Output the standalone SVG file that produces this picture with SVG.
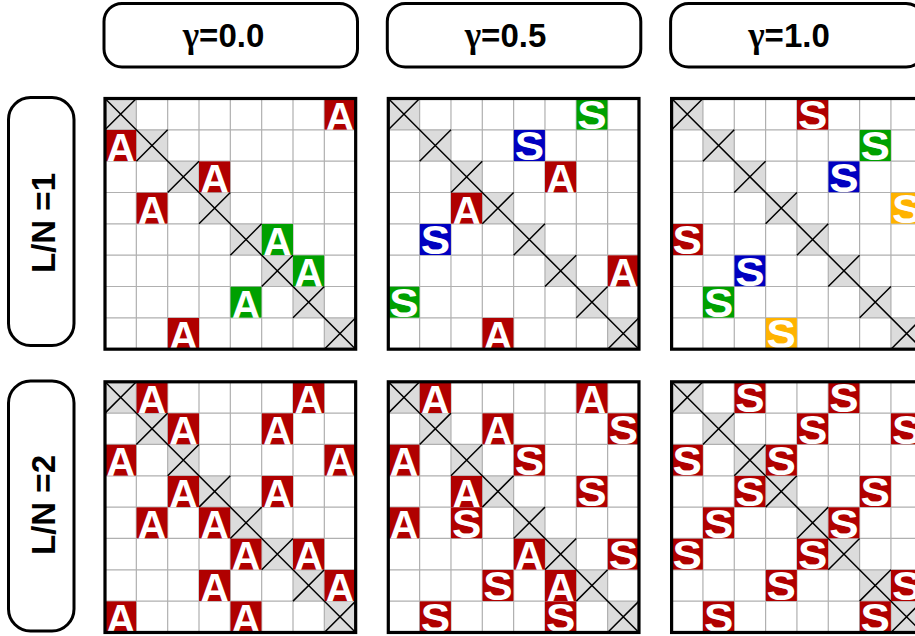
<svg xmlns="http://www.w3.org/2000/svg" xmlns:xlink="http://www.w3.org/1999/xlink" width="915" height="636" viewBox="0 0 915 636">
<style>
.hdr{fill:#fff;stroke:#000;stroke-width:3}
.ht{font-family:"Liberation Sans",Arial,sans-serif;font-weight:bold;font-size:33px;fill:#000}
.gam{font-family:"Liberation Serif","Times New Roman",serif;font-weight:bold;font-size:35px}
.gl{fill:none;stroke:#b0b0b0;stroke-width:1.2}
.dg{fill:#dcdcdc}
.xl{fill:none;stroke:#000;stroke-width:1.5}
.bd{fill:none;stroke:#000;stroke-width:3.2}
.lt{font-family:"Liberation Sans",Arial,sans-serif;font-weight:bold;font-size:40px;fill:#fff;text-anchor:middle}
.r{fill:#b00000}.g{fill:#00a000}.b{fill:#0000c0}.y{fill:#ffb300}
</style>
<defs>
<g id="base">
<rect x="0" y="0" width="250.67" height="250.67" fill="#fff"/>
<rect class="dg" x="0" y="0" width="31.33" height="31.33"/>
<rect class="dg" x="31.33" y="31.33" width="31.33" height="31.33"/>
<rect class="dg" x="62.67" y="62.67" width="31.33" height="31.33"/>
<rect class="dg" x="94" y="94" width="31.33" height="31.33"/>
<rect class="dg" x="125.33" y="125.33" width="31.33" height="31.33"/>
<rect class="dg" x="156.67" y="156.67" width="31.33" height="31.33"/>
<rect class="dg" x="188" y="188" width="31.33" height="31.33"/>
<rect class="dg" x="219.33" y="219.33" width="31.33" height="31.33"/>
<path class="gl" d="M31.33 0V250.67M62.67 0V250.67M94 0V250.67M125.33 0V250.67M156.67 0V250.67M188 0V250.67M219.33 0V250.67M0 31.33H250.67M0 62.67H250.67M0 94H250.67M0 125.33H250.67M0 156.67H250.67M0 188H250.67M0 219.33H250.67"/>
<path class="xl" d="M0 0L250.67 250.67M0 31.33L31.33 0M31.33 62.67L62.67 31.33M62.67 94L94 62.67M94 125.33L125.33 94M125.33 156.67L156.67 125.33M156.67 188L188 156.67M188 219.33L219.33 188M219.33 250.67L250.67 219.33"/>
</g>
<rect id="border" class="bd" x="0" y="0" width="250.67" height="250.67"/>
<symbol id="rA" viewBox="0 0 31.33 31.33" overflow="hidden"><rect class="r" width="31.33" height="31.33"/><text class="lt" x="15.67" y="32">A</text></symbol>
<symbol id="gA" viewBox="0 0 31.33 31.33" overflow="hidden"><rect class="g" width="31.33" height="31.33"/><text class="lt" x="15.67" y="32">A</text></symbol>
<symbol id="rS" viewBox="0 0 31.33 31.33" overflow="hidden"><rect class="r" width="31.33" height="31.33"/><text class="lt" transform="translate(15.67,30.5) scale(1.1,1)">S</text></symbol>
<symbol id="gS" viewBox="0 0 31.33 31.33" overflow="hidden"><rect class="g" width="31.33" height="31.33"/><text class="lt" transform="translate(15.67,30.5) scale(1.1,1)">S</text></symbol>
<symbol id="bS" viewBox="0 0 31.33 31.33" overflow="hidden"><rect class="b" width="31.33" height="31.33"/><text class="lt" transform="translate(15.67,30.5) scale(1.1,1)">S</text></symbol>
<symbol id="yS" viewBox="0 0 31.33 31.33" overflow="hidden"><rect class="y" width="31.33" height="31.33"/><text class="lt" transform="translate(15.67,30.5) scale(1.1,1)">S</text></symbol>
</defs>

<g id="col-g00"><rect class="hdr" x="104" y="3.5" width="253.5" height="63.5" rx="18"/><text class="ht" x="223.5" y="46.5" text-anchor="middle"><tspan class="gam">γ</tspan>=0.0</text></g>
<g id="col-g05"><rect class="hdr" x="387.3" y="3.5" width="253.5" height="63.5" rx="18"/><text class="ht" x="505.5" y="46.5" text-anchor="middle"><tspan class="gam">γ</tspan>=0.5</text></g>
<g id="col-g10"><rect class="hdr" x="670.6" y="3.5" width="253.5" height="63.5" rx="18"/><text class="ht" x="789" y="46.5" text-anchor="middle"><tspan class="gam">γ</tspan>=1.0</text></g>

<g id="row-ln1"><rect class="hdr" x="8.5" y="97.5" width="65.5" height="248" rx="22"/><text class="ht" transform="translate(55,223) rotate(-90)" text-anchor="middle">L/N =1</text></g>
<g id="row-ln2"><rect class="hdr" x="8.5" y="381" width="65.5" height="250" rx="22"/><text class="ht" transform="translate(55,505) rotate(-90)" text-anchor="middle">L/N =2</text></g>

<g id="panel-ln1-g00" transform="translate(105,98.5)">
<use xlink:href="#base"/>
<use xlink:href="#rA" x="219.33" y="0" width="31.33" height="31.33"/>
<use xlink:href="#rA" x="0" y="31.33" width="31.33" height="31.33"/>
<use xlink:href="#rA" x="94" y="62.67" width="31.33" height="31.33"/>
<use xlink:href="#rA" x="31.33" y="94" width="31.33" height="31.33"/>
<use xlink:href="#gA" x="156.67" y="125.33" width="31.33" height="31.33"/>
<use xlink:href="#gA" x="188" y="156.67" width="31.33" height="31.33"/>
<use xlink:href="#gA" x="125.33" y="188" width="31.33" height="31.33"/>
<use xlink:href="#rA" x="62.67" y="219.33" width="31.33" height="31.33"/>
<use xlink:href="#border"/>
</g>

<g id="panel-ln1-g05" transform="translate(388.3,98.5)">
<use xlink:href="#base"/>
<use xlink:href="#gS" x="188" y="0" width="31.33" height="31.33"/>
<use xlink:href="#bS" x="125.33" y="31.33" width="31.33" height="31.33"/>
<use xlink:href="#rA" x="156.67" y="62.67" width="31.33" height="31.33"/>
<use xlink:href="#rA" x="62.67" y="94" width="31.33" height="31.33"/>
<use xlink:href="#bS" x="31.33" y="125.33" width="31.33" height="31.33"/>
<use xlink:href="#rA" x="219.33" y="156.67" width="31.33" height="31.33"/>
<use xlink:href="#gS" x="0" y="188" width="31.33" height="31.33"/>
<use xlink:href="#rA" x="94" y="219.33" width="31.33" height="31.33"/>
<use xlink:href="#border"/>
</g>

<g id="panel-ln1-g10" transform="translate(671.6,98.5)">
<use xlink:href="#base"/>
<use xlink:href="#rS" x="125.33" y="0" width="31.33" height="31.33"/>
<use xlink:href="#gS" x="188" y="31.33" width="31.33" height="31.33"/>
<use xlink:href="#bS" x="156.67" y="62.67" width="31.33" height="31.33"/>
<use xlink:href="#yS" x="219.33" y="94" width="31.33" height="31.33"/>
<use xlink:href="#rS" x="0" y="125.33" width="31.33" height="31.33"/>
<use xlink:href="#bS" x="62.67" y="156.67" width="31.33" height="31.33"/>
<use xlink:href="#gS" x="31.33" y="188" width="31.33" height="31.33"/>
<use xlink:href="#yS" x="94" y="219.33" width="31.33" height="31.33"/>
<use xlink:href="#border"/>
</g>

<g id="panel-ln2-g00" transform="translate(105,381.8)">
<use xlink:href="#base"/>
<use xlink:href="#rA" x="31.33" y="0" width="31.33" height="31.33"/>
<use xlink:href="#rA" x="188" y="0" width="31.33" height="31.33"/>
<use xlink:href="#rA" x="62.67" y="31.33" width="31.33" height="31.33"/>
<use xlink:href="#rA" x="156.67" y="31.33" width="31.33" height="31.33"/>
<use xlink:href="#rA" x="0" y="62.67" width="31.33" height="31.33"/>
<use xlink:href="#rA" x="219.33" y="62.67" width="31.33" height="31.33"/>
<use xlink:href="#rA" x="62.67" y="94" width="31.33" height="31.33"/>
<use xlink:href="#rA" x="156.67" y="94" width="31.33" height="31.33"/>
<use xlink:href="#rA" x="31.33" y="125.33" width="31.33" height="31.33"/>
<use xlink:href="#rA" x="94" y="125.33" width="31.33" height="31.33"/>
<use xlink:href="#rA" x="125.33" y="156.67" width="31.33" height="31.33"/>
<use xlink:href="#rA" x="188" y="156.67" width="31.33" height="31.33"/>
<use xlink:href="#rA" x="94" y="188" width="31.33" height="31.33"/>
<use xlink:href="#rA" x="219.33" y="188" width="31.33" height="31.33"/>
<use xlink:href="#rA" x="0" y="219.33" width="31.33" height="31.33"/>
<use xlink:href="#rA" x="125.33" y="219.33" width="31.33" height="31.33"/>
<use xlink:href="#border"/>
</g>

<g id="panel-ln2-g05" transform="translate(388.3,381.8)">
<use xlink:href="#base"/>
<use xlink:href="#rA" x="31.33" y="0" width="31.33" height="31.33"/>
<use xlink:href="#rA" x="188" y="0" width="31.33" height="31.33"/>
<use xlink:href="#rA" x="94" y="31.33" width="31.33" height="31.33"/>
<use xlink:href="#rS" x="219.33" y="31.33" width="31.33" height="31.33"/>
<use xlink:href="#rA" x="0" y="62.67" width="31.33" height="31.33"/>
<use xlink:href="#rS" x="125.33" y="62.67" width="31.33" height="31.33"/>
<use xlink:href="#rA" x="62.67" y="94" width="31.33" height="31.33"/>
<use xlink:href="#rS" x="188" y="94" width="31.33" height="31.33"/>
<use xlink:href="#rA" x="0" y="125.33" width="31.33" height="31.33"/>
<use xlink:href="#rS" x="62.67" y="125.33" width="31.33" height="31.33"/>
<use xlink:href="#rA" x="125.33" y="156.67" width="31.33" height="31.33"/>
<use xlink:href="#rS" x="219.33" y="156.67" width="31.33" height="31.33"/>
<use xlink:href="#rS" x="94" y="188" width="31.33" height="31.33"/>
<use xlink:href="#rA" x="156.67" y="188" width="31.33" height="31.33"/>
<use xlink:href="#rS" x="31.33" y="219.33" width="31.33" height="31.33"/>
<use xlink:href="#rS" x="156.67" y="219.33" width="31.33" height="31.33"/>
<use xlink:href="#border"/>
</g>

<g id="panel-ln2-g10" transform="translate(671.6,381.8)">
<use xlink:href="#base"/>
<use xlink:href="#rS" x="62.67" y="0" width="31.33" height="31.33"/>
<use xlink:href="#rS" x="156.67" y="0" width="31.33" height="31.33"/>
<use xlink:href="#rS" x="125.33" y="31.33" width="31.33" height="31.33"/>
<use xlink:href="#rS" x="219.33" y="31.33" width="31.33" height="31.33"/>
<use xlink:href="#rS" x="0" y="62.67" width="31.33" height="31.33"/>
<use xlink:href="#rS" x="94" y="62.67" width="31.33" height="31.33"/>
<use xlink:href="#rS" x="62.67" y="94" width="31.33" height="31.33"/>
<use xlink:href="#rS" x="188" y="94" width="31.33" height="31.33"/>
<use xlink:href="#rS" x="31.33" y="125.33" width="31.33" height="31.33"/>
<use xlink:href="#rS" x="156.67" y="125.33" width="31.33" height="31.33"/>
<use xlink:href="#rS" x="0" y="156.67" width="31.33" height="31.33"/>
<use xlink:href="#rS" x="125.33" y="156.67" width="31.33" height="31.33"/>
<use xlink:href="#rS" x="94" y="188" width="31.33" height="31.33"/>
<use xlink:href="#rS" x="219.33" y="188" width="31.33" height="31.33"/>
<use xlink:href="#rS" x="31.33" y="219.33" width="31.33" height="31.33"/>
<use xlink:href="#rS" x="188" y="219.33" width="31.33" height="31.33"/>
<use xlink:href="#border"/>
</g>
</svg>
